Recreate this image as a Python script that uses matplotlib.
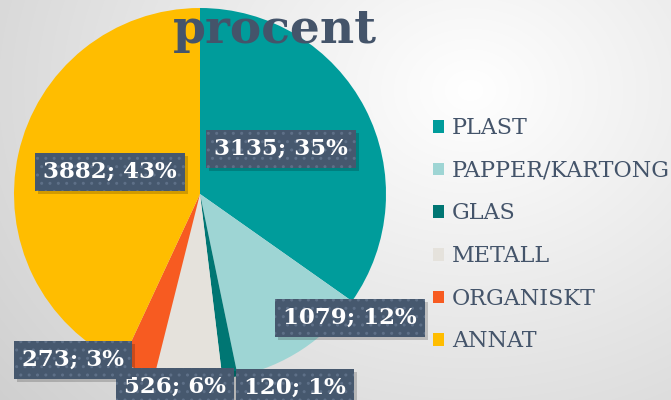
import matplotlib.pyplot as plt
import numpy as np

# data
categories = ["PLAST", "PAPPER/KARTONG", "GLAS", "METALL", "ORGANISKT", "ANNAT"]
values = [3135, 1079, 120, 526, 273, 3882]
percents = [35, 12, 1, 6, 3, 43]
colors = ["#009C9B", "#9ED5D4", "#007673", "#E5E2DC", "#F75B21", "#FFBD00"]

text_col = "#44546A"
box_col = "#46586E"
W, H = 671, 400

fig = plt.figure(figsize=(W / 100, H / 100), dpi=100)
ax = fig.add_axes([0, 0, 1, 1])

# soft gray background, lighter towards upper middle
yy, xx = np.mgrid[0:H, 0:W]
d = np.hypot((xx - 470) / 520, (yy - 90) / 420)
shade = np.clip(1.0 - 0.16 * d, 0.80, 1.0)
bg = np.dstack([shade, shade, shade])
ax.imshow(bg, extent=(0, W, 0, H), origin="upper", zorder=0, aspect="auto")

# pie, clockwise from 12 o'clock
cx, cy, r = 200, 206, 186
wedges, _ = ax.pie(values, colors=colors, startangle=90, counterclock=False,
                   center=(cx, cy), radius=r, frame=True,
                   wedgeprops=dict(linewidth=0, zorder=2))

# data labels in dark boxes
label_pos = [(281, 251), (350, 82), (295, 12), (175, 13), (73, 40), (110, 228)]
for v, p, (lx, ly) in zip(values, percents, label_pos):
    s = f"{v}; {p}%"
    # drop shadow
    ax.text(lx + 3, ly - 3, s, ha="center", va="center", fontsize=16.5,
            fontweight="bold", family="DejaVu Serif", color=(0, 0, 0, 0),
            bbox=dict(boxstyle="square,pad=0.35", facecolor="#000000",
                      alpha=0.18, linewidth=0), zorder=3)
    ax.text(lx, ly, s, ha="center", va="center", fontsize=16.5,
            fontweight="bold", family="DejaVu Serif", color="white",
            bbox=dict(boxstyle="square,pad=0.35", facecolor=box_col,
                      edgecolor="#5E7088", hatch="..", linewidth=0),
            zorder=4)

# title sits over the top of the pie
ax.text(275, 370, "procent", ha="center", va="center", fontsize=34,
        fontweight="bold", family="DejaVu Serif", color=text_col, zorder=5)

# legend
leg = ax.legend(wedges, categories, loc="upper left",
                bbox_to_anchor=(422 / W, 1 - 106 / H), frameon=False,
                handlelength=0.5, handleheight=0.5, handletextpad=0.35,
                labelspacing=0.93, borderpad=0,
                prop=dict(family="DejaVu Serif", size=16))
for t in leg.get_texts():
    t.set_color(text_col)

ax.set_xlim(0, W)
ax.set_ylim(0, H)
ax.set_aspect("auto")
ax.axis("off")

fig.savefig("out.png", dpi=100)
